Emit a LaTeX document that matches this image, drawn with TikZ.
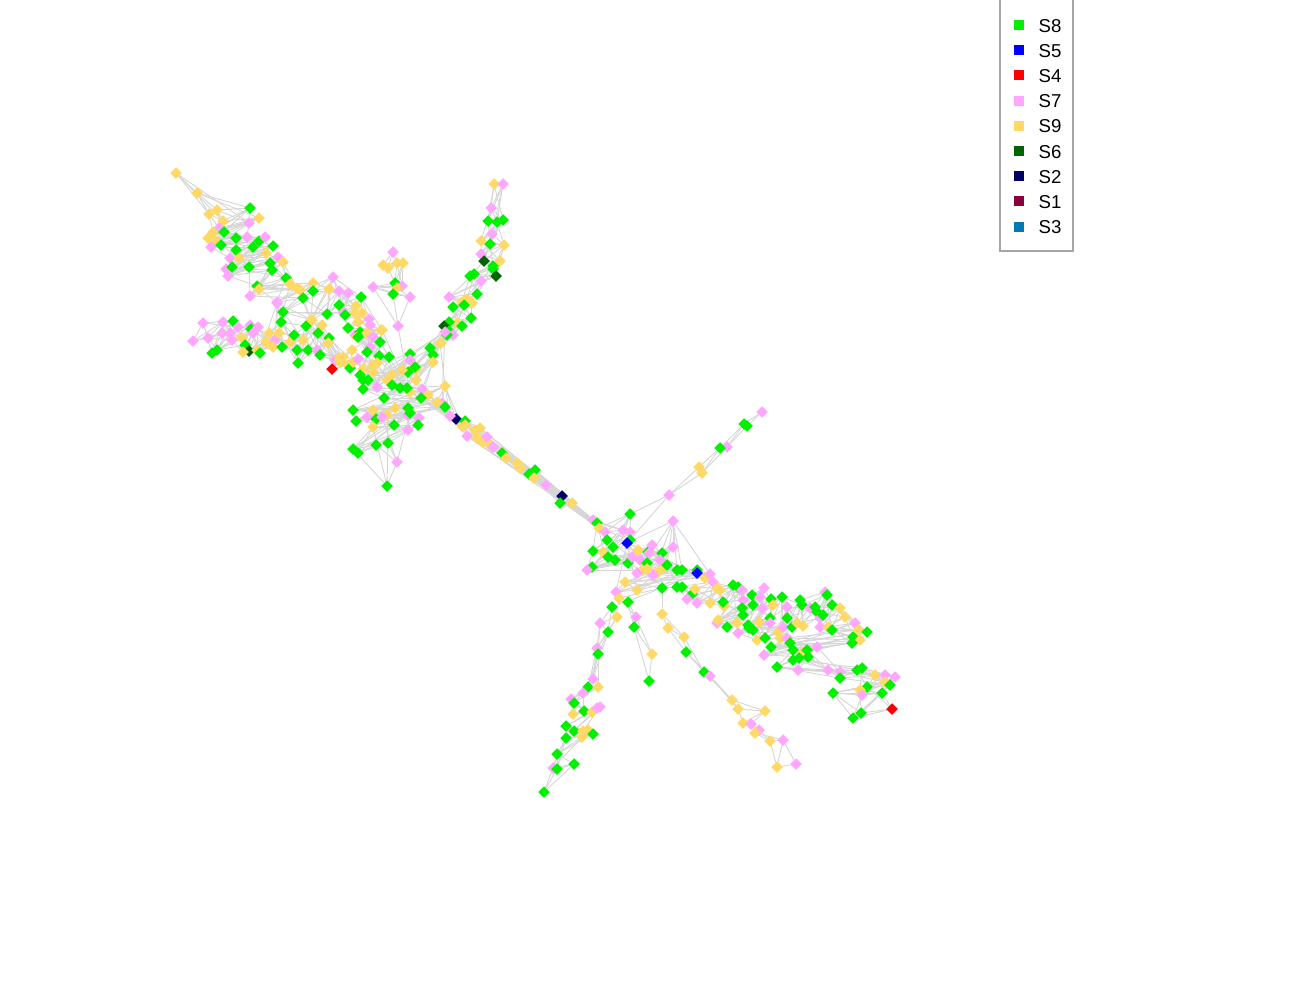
\documentclass[tikz,border=0pt]{standalone}
\usepackage{fontspec}
\setmainfont{Liberation Sans}
\usetikzlibrary{shapes.geometric,backgrounds}

\definecolor{s8}{RGB}{0,240,0}
\definecolor{s5}{RGB}{0,0,255}
\definecolor{s4}{RGB}{255,0,0}
\definecolor{s7}{RGB}{255,166,255}
\definecolor{s9}{RGB}{255,217,102}
\definecolor{s6}{RGB}{0,100,0}
\definecolor{s2}{RGB}{0,0,102}
\definecolor{s1}{RGB}{140,0,60}
\definecolor{s3}{RGB}{0,122,180}

\tikzset{
  mk/.style={diamond, fill=s#1, inner sep=0pt, outer sep=0pt, minimum size=1.15mm},
  link/.style={draw=black!16, line width=0.25pt},
  keybox/.style={fill=s#1, inner sep=0pt, minimum size=1mm},
  keytext/.style={anchor=west, inner sep=0pt, font=\fontsize{5.3}{6}\selectfont},
}

% one arm of the network: markers, then links between list neighbours
\newcommand\netgroup[3]{%
  \foreach \x/\y/\c [count=\i] in {#2} {
    \node[mk=\c] (#1\i) at (\x,\y) {};
    \xdef\lastidx{\i}
  }
  \coordinate (#1end) at (#1\lastidx);
  \begin{pgfonlayer}{background}
    \foreach \d in {#3} {
      \pgfmathtruncatemacro\st{\d+1}
      \foreach \i [evaluate=\i as \j using int(\i-\d)] in {\st,...,\lastidx}
        \draw[link] (#1\i) -- (#1\j);
    }
  \end{pgfonlayer}
}

\begin{document}
\begin{tikzpicture}[x=0.01cm, y=-0.01cm]
  \useasboundingbox (0,0) rectangle (1300,1000);
  \begin{pgfonlayer}{background}
    \fill[white] (0,0) rectangle (1300,1000);
  \end{pgfonlayer}

  % upper left arm
  \netgroup{a}{176/173/9, 197/193/9, 209/214/9, 217/210/9, 223/221/9, 250/208/8, 219/228/7, 249/223/7, 259/218/9, 213/232/9,
    224/232/8, 208/238/9, 215/240/9, 236/238/8, 247/237/7, 211/247/7, 221/245/8, 259/241/8, 265/237/7, 253/247/8,
    236/250/8, 273/246/8, 230/258/7, 239/258/9, 266/253/9, 226/269/7, 232/267/8, 249/267/8, 228/276/7, 270/263/8,
    278/257/7, 283/262/9, 272/270/8, 286/278/8, 250/296/7, 257/286/8, 259/289/9, 290/284/9, 297/288/9, 300/290/9,
    277/302/7, 303/298/8, 313/283/9, 313/291/8, 283/312/8, 311/320/9, 329/289/9, 333/277/7, 327/314/8, 339/291/7,
    348/293/7, 343/312/7, 339/305/8, 356/306/9, 361/297/8, 362/313/9, 355/313/9, 345/315/8, 369/319/7, 348/328/8,
    358/322/9, 382/330/9}{1,2,4,7}

  % left arm
  \netgroup{b}{193/341/7, 203/323/7, 208/338/7, 223/322/7, 233/321/8, 222/333/7, 212/353/8, 217/350/8, 230/333/7, 238/327/7,
    232/340/7, 242/338/9, 245/345/8, 250/325/7, 251/329/8, 253/333/7, 258/327/7, 249/351/6, 243/352/9, 257/350/9,
    260/353/8, 266/342/9, 269/333/9, 275/340/7, 273/347/9, 279/333/9, 282/347/8, 281/322/8, 277/303/7, 290/342/9,
    294/335/8, 303/340/9, 297/350/8, 298/363/8, 308/350/8, 306/326/8, 312/320/9, 322/325/9, 318/333/8, 317/350/7,
    320/355/8, 329/338/8, 328/343/9, 335/360/7, 339/358/9, 343/357/9, 340/362/9, 348/365/9, 350/368/8, 353/362/9,
    332/369/4, 352/350/9}{1,3,5,8}

  % small fan
  \netgroup{c}{393/252/7, 383/265/9, 388/268/9, 397/263/9, 403/263/9, 395/283/8, 402/286/7, 397/288/9, 373/287/7, 393/294/8,
    410/297/7, 398/326/7}{1,2,3}

  % top arm
  \netgroup{d}{494/184/9, 503/184/7, 491/208/7, 488/221/8, 497/222/8, 503/220/8, 492/234/7, 481/241/9, 490/244/8, 504/245/9,
    481/254/7, 484/261/6, 500/261/9, 493/266/8, 493/269/8, 496/276/6, 470/276/8, 474/274/8, 481/281/7, 477/294/8,
    449/297/7, 462/302/9, 467/299/9, 472/303/9, 453/307/8, 464/305/8, 471/318/8, 457/323/9, 449/322/8, 462/326/8,
    444/326/6, 449/331/8, 453/335/7, 447/335/8, 441/343/9, 430/348/8, 433/355/8}{1,2,3,5}

  % left hub
  \netgroup{e}{410/392/9, 355/335/7, 360/332/8, 357/337/9, 370/325/7, 367/333/9, 373/337/7, 381/330/9, 358/337/8, 380/342/8,
    370/347/7, 367/352/8, 379/356/8, 389/357/8, 377/363/9, 363/369/9, 358/359/7, 373/365/9, 363/380/8, 360/375/8,
    373/372/9, 368/380/8, 377/387/7, 387/380/9, 392/375/9, 392/385/8, 410/354/8, 410/360/7, 416/369/9, 408/372/8,
    415/367/8, 402/370/9, 416/380/9, 433/362/9, 440/343/9, 445/332/7, 363/389/8, 384/398/8, 400/388/8, 407/388/8,
    422/389/7, 428/395/9, 421/398/8, 445/386/9, 442/403/7, 437/402/9, 445/407/8, 353/410/8, 356/421/8, 373/410/9,
    367/417/7, 376/419/8, 395/408/9, 394/425/8, 408/408/8, 408/415/7, 419/418/7, 387/415/9, 382/417/7, 373/427/9,
    408/430/7, 418/425/8, 410/413/8, 353/449/8, 358/453/8, 376/445/8, 388/443/8, 397/462/7, 387/486/8}{1,2,5,9}

  % chain
  \netgroup{f}{456/419/2, 450/416/7, 462/426/9, 465/421/8, 465/425/9, 467/436/7, 475/430/9, 480/428/9, 477/438/9, 483/442/9,
    487/437/7, 490/445/9, 493/447/7, 502/453/8, 506/458/9, 517/463/9, 520/468/9, 529/474/8, 535/470/8, 534/478/9,
    546/485/7, 562/496/2, 560/503/8, 572/503/9}{1,2,3,4}

  % right hub
  \netgroup{g}{593/520/7, 597/523/8, 599/528/9, 605/532/7, 630/514/8, 623/530/7, 630/532/7, 630/540/8, 607/540/8, 613/547/8,
    593/551/8, 603/552/9, 608/557/8, 615/560/8, 592/567/8, 587/570/7, 628/563/8, 632/557/7, 638/550/9, 640/560/7,
    642/570/9, 648/552/8, 652/545/7, 649/553/7, 662/553/8, 673/547/7, 660/560/7, 647/563/8, 647/569/9, 637/573/7,
    657/573/9, 663/568/9, 653/575/7, 667/565/8, 673/521/7, 677/570/8, 682/570/8, 697/570/8, 705/578/9, 710/574/7,
    625/582/9, 637/590/9, 616/592/7, 627/543/5, 697/573/5, 662/588/8}{1,2,5,9}

  % right arm
  \netgroup{h}{677/587/8, 682/587/8, 692/594/8, 695/589/9, 687/599/7, 697/603/7, 710/603/9, 713/582/7, 717/588/9, 720/590/9,
    724/606/9, 723/602/8, 733/585/8, 738/587/8, 742/590/7, 743/600/7, 752/595/8, 742/608/8, 743/615/8, 737/623/9,
    717/623/7, 718/620/9, 727/627/8, 764/588/7, 760/597/7, 753/605/8, 771/599/8, 773/605/9, 762/608/7, 770/618/8,
    759/622/9, 748/625/8, 749/628/8, 770/623/7, 738/633/7, 753/630/8, 757/640/9, 765/638/8, 778/632/9, 783/627/7,
    780/638/9, 782/597/8, 787/607/7, 787/618/8, 792/627/8, 797/623/9, 803/626/9, 800/600/8, 802/605/8, 810/608/7,
    815/607/8, 817/612/8, 820/618/7, 823/615/8, 825/592/7, 827/595/8, 832/605/8, 840/608/9, 845/617/9, 820/627/7,
    828/627/9, 832/630/8, 855/623/7, 858/630/9, 867/632/8, 853/637/8, 860/640/9, 852/643/8, 771/647/8, 764/655/7,
    787/638/7, 790/643/8, 793/650/8, 802/653/9, 807/650/8, 817/647/7, 808/657/8, 799/658/8, 793/660/8, 777/667/8,
    798/670/7, 828/670/7, 840/672/7, 840/678/8, 857/670/8, 862/668/8, 875/675/9, 885/675/7, 885/682/9, 895/677/7,
    890/685/8, 867/687/8, 860/690/9, 862/695/7, 882/693/8, 833/693/8, 861/713/8, 853/718/8, 892/709/4}{1,2,4,7}

  % lower left arm
  \netgroup{i}{612/607/8, 617/617/9, 600/623/7, 608/632/8, 597/648/7, 598/654/8, 593/679/7, 588/687/8, 598/687/9, 583/693/7,
    571/699/7, 574/703/8, 584/711/8, 573/714/9, 592/712/9, 597/708/7, 600/707/7, 566/726/8, 574/731/8, 583/731/9,
    588/730/9, 593/734/8, 582/737/9, 566/738/8, 557/754/8, 553/768/7, 557/769/8, 574/764/8, 544/792/8}{1,2,3}

  % lower middle arm
  \netgroup{j}{662/614/9, 668/628/9, 684/637/9, 686/652/8, 704/672/8, 710/676/7, 732/700/9, 738/709/9, 765/711/9, 743/723/9,
    751/724/7, 759/730/7, 755/733/9, 770/741/9, 783/740/7, 777/767/9, 796/764/7}{1,2}
  \netgroup{l}{619/598/9, 628/602/8, 636/617/7, 634/627/8, 652/654/9, 649/681/8}{1,2}

  % upper right arm
  \netgroup{k}{762/412/7, 747/426/8, 744/424/8, 727/447/7, 720/448/8, 702/473/9, 699/467/9, 669/495/7}{1,2}

  \begin{pgfonlayer}{background}
    \foreach \p/\q in {aend/e1, bend/e1, aend/bend, cend/e1, dend/e1, e1/f1, e1/f2, e1/fend, f1/g1, fend/g1, fend/g2,
      f22/g1, gend/h1, gend/i1, gend/j1, gend/l1, kend/g5, kend/g8}
      \draw[link] (\p) -- (\q);
    % bundle along the chain
    \foreach \p in {41,...,47}
      \foreach \q in {1,2,3}
        \draw[link] (e\p) -- (f\q);
    \foreach \p in {4,...,21}
      \foreach \q in {1,2,3}
        \draw[link] (f\p) -- (g\q);
  \end{pgfonlayer}

  % legend
  \draw[gray!70, line width=0.4pt] (1000,-2) rectangle (1073,251);
  \foreach \c [count=\i] in {8,5,4,7,9,6,2,1,3} {
    \node[keybox=\c] (key\i) at (1019,{25.2*\i-0.2}) {};
    \node[keytext] (lab\i) at (1038,{25.2*\i+0.4}) {S\c};
  }
\end{tikzpicture}
\end{document}
